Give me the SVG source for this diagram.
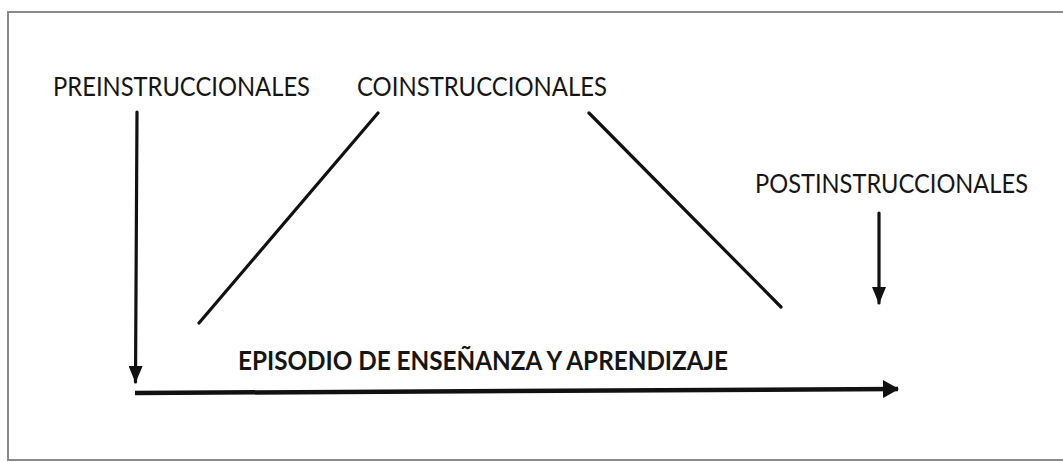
<svg xmlns="http://www.w3.org/2000/svg" width="1063" height="462" viewBox="0 0 1063 462">
<style>
.lbl{font-family:Lato,"Open Sans","Liberation Sans",sans-serif;font-size:26.5px;fill:#151515}
.bold{font-weight:bold}
.ln{stroke:#111;stroke-width:3.2;fill:none;stroke-linecap:round}
</style>
<defs>
<marker id="ah" markerWidth="17" markerHeight="14" refX="16" refY="7" orient="auto" markerUnits="userSpaceOnUse">
<path d="M0,0 L17,7 L0,14 Z" fill="#111"/>
</marker>
<marker id="ah2" markerWidth="16" markerHeight="18" refX="15" refY="9" orient="auto" markerUnits="userSpaceOnUse">
<path d="M0,0 L16,9 L0,18 Z" fill="#111"/>
</marker>
</defs>
<rect x="0" y="0" width="1063" height="462" fill="#fff"/>
<path d="M1063,12 H8 V460 H1063" fill="none" stroke="#8a8a8a" stroke-width="2"/>
<g id="pre"><text class="lbl" x="53" y="96" textLength="257" lengthAdjust="spacingAndGlyphs">PREINSTRUCCIONALES</text></g>
<g id="co"><text class="lbl" x="357" y="96" textLength="250" lengthAdjust="spacingAndGlyphs">COINSTRUCCIONALES</text></g>
<g id="post"><text class="lbl" x="755" y="193" textLength="273" lengthAdjust="spacingAndGlyphs">POSTINSTRUCCIONALES</text></g>
<g id="episodio"><text class="lbl bold" x="238" y="370" textLength="490" lengthAdjust="spacingAndGlyphs">EPISODIO DE ENSEÑANZA Y APRENDIZAJE</text></g>
<g id="connectors">
<line class="ln" x1="137" y1="112" x2="135.5" y2="382" marker-end="url(#ah)"/>
<line class="ln" x1="378" y1="113" x2="199" y2="323"/>
<line class="ln" x1="589" y1="113" x2="781" y2="307"/>
<line class="ln" x1="879" y1="213" x2="879" y2="303" marker-end="url(#ah)"/>
<line class="ln" style="stroke-width:4.5;stroke-linecap:butt" x1="135" y1="393" x2="898" y2="389" marker-end="url(#ah2)"/>
</g>
</svg>
